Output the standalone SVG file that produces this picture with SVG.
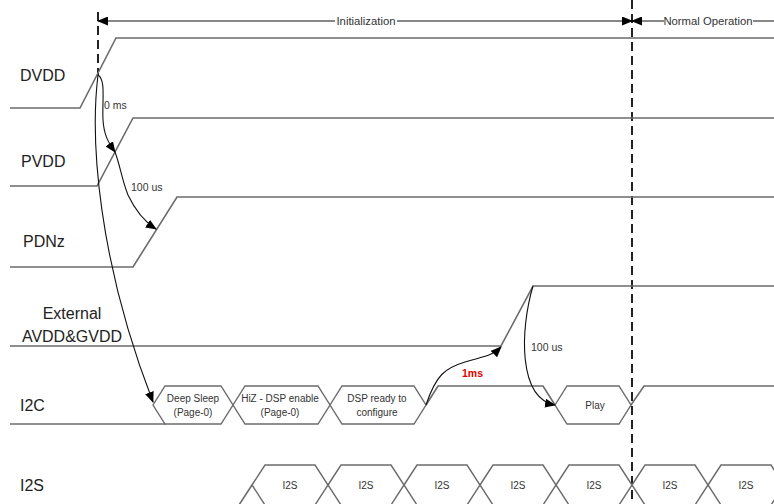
<svg xmlns="http://www.w3.org/2000/svg" width="774" height="504" viewBox="0 0 774 504">
<style>
.sig{fill:none;stroke:#6b6b6b;stroke-width:1.6}
.hex{fill:#fff;stroke:#6b6b6b;stroke-width:1.4}
.lbl{font-family:"Liberation Sans",Arial,sans-serif;font-size:16px;fill:#222}
.t{font-family:"Liberation Sans",Arial,sans-serif;font-size:10px;fill:#333;text-anchor:middle}
.ph{font-family:"Liberation Sans",Arial,sans-serif;font-size:11.3px;fill:#333;text-anchor:middle}
.ann{font-family:"Liberation Sans",Arial,sans-serif;font-size:10.5px;fill:#333}
.dash{stroke:#222;stroke-width:2;stroke-dasharray:9,5;fill:none}
.arr{fill:none;stroke:#111;stroke-width:1.1}
</style>
<defs>
<marker id="ah" markerWidth="11" markerHeight="9" refX="10" refY="4.5" orient="auto-start-reverse" markerUnits="userSpaceOnUse">
<path d="M0,0 L11,4.5 L0,9 z" fill="#000"/>
</marker>
</defs>
<rect width="774" height="504" fill="#fff"/>

<g id="phases">
<line x1="98" y1="12" x2="98" y2="75" class="dash"/>
<line x1="632" y1="0" x2="632" y2="504" class="dash"/>
<path d="M98,21 H632" class="arr" marker-start="url(#ah)" marker-end="url(#ah)"/>
<path d="M632,21 H774" class="arr" marker-start="url(#ah)"/>
<rect x="335" y="14" width="62" height="14" fill="#fff"/>
<rect x="664" y="14" width="89" height="14" fill="#fff"/>
<text x="366" y="25" class="ph">Initialization</text>
<text x="708" y="25" class="ph">Normal Operation</text>
</g>

<g id="DVDD">
<text x="20" y="81" class="lbl">DVDD</text>
<polyline points="10,108 80,108 116,38 774,38" class="sig"/>
</g>
<g id="PVDD">
<text x="21" y="167" class="lbl">PVDD</text>
<polyline points="10,186 97,186 133,118 774,118" class="sig"/>
</g>
<g id="PDNz">
<text x="23" y="247" class="lbl">PDNz</text>
<polyline points="10,267 133,267 177,197 774,197" class="sig"/>
</g>
<g id="AVDD">
<text x="72" y="319" class="lbl" text-anchor="middle" font-size="17">External</text>
<text x="72" y="342" class="lbl" text-anchor="middle" font-size="17">AVDD&amp;GVDD</text>
<polyline points="10,346 501,346 533,286 774,286" class="sig"/>
</g>

<g id="I2C">
<text x="20" y="411" class="lbl">I2C</text>
<line x1="10" y1="424" x2="166" y2="424" class="sig"/>
<g id="deep-sleep">
<polygon points="153,405 165,386 221,386 233,405 221,424 165,424" class="hex"/>
<text x="193" y="402" class="t">Deep Sleep</text>
<text x="193" y="416" class="t">(Page-0)</text>
</g>
<g id="hiz">
<polygon points="233,405 245,386 318,386 330,405 318,424 245,424" class="hex"/>
<text x="280" y="402" class="t">HiZ - DSP enable</text>
<text x="280" y="416" class="t">(Page-0)</text>
</g>
<g id="dsp-ready">
<polygon points="330,405 342,386 414,386 426,405 414,424 342,424" class="hex"/>
<text x="377" y="402" class="t">DSP ready to</text>
<text x="377" y="416" class="t">configure</text>
</g>
<polyline points="426,405 438,386 543,386 555,405" class="sig"/>
<g id="play">
<polygon points="555,405 567,386 619,386 631,405 619,424 567,424" class="hex"/>
<text x="595" y="409" class="t">Play</text>
</g>
<polyline points="631,405 644,386 774,386" class="sig"/>
</g>

<g id="I2S">
<text x="20" y="491" class="lbl">I2S</text>
<line x1="239" y1="505" x2="252" y2="485" class="sig"/>
<polygon points="252,485 265,465 315,465 328,485 315,505 265,505" class="hex"/>
<polygon points="328,485 341,465 391,465 404,485 391,505 341,505" class="hex"/>
<polygon points="404,485 417,465 467,465 480,485 467,505 417,505" class="hex"/>
<polygon points="480,485 493,465 543,465 556,485 543,505 493,505" class="hex"/>
<polygon points="556,485 569,465 619,465 632,485 619,505 569,505" class="hex"/>
<polygon points="632,485 645,465 695,465 708,485 695,505 645,505" class="hex"/>
<polygon points="708,485 721,465 771,465 784,485 771,505 721,505" class="hex"/>
<text x="290" y="489" class="t">I2S</text>
<text x="366" y="489" class="t">I2S</text>
<text x="442" y="489" class="t">I2S</text>
<text x="518" y="489" class="t">I2S</text>
<text x="594" y="489" class="t">I2S</text>
<text x="670" y="489" class="t">I2S</text>
<text x="746" y="489" class="t">I2S</text>
</g>

<g id="connectors">
<path d="M98,75 C106,80 102,100 103,120 C104,135 108,142 115,152" class="arr" marker-end="url(#ah)"/>
<path d="M115,152 C120,165 122,180 128,195 C136,212 145,222 156,229" class="arr" marker-end="url(#ah)"/>
<path d="M98,75 C90,140 98,260 153,402" class="arr" marker-end="url(#ah)"/>
<path d="M426,405 C436,375 445,368 465,362 S492,356 501,347" class="arr" marker-end="url(#ah)"/>
<path d="M533,286 C520,330 518,398 555,405" class="arr" marker-end="url(#ah)"/>
<text x="104" y="109" class="ann">0 ms</text>
<text x="131" y="191" class="ann">100 us</text>
<text x="531" y="351" class="ann">100 us</text>
<text x="462" y="377" class="ann" font-weight="bold" style="fill:#e00000">1ms</text>
</g>
</svg>
